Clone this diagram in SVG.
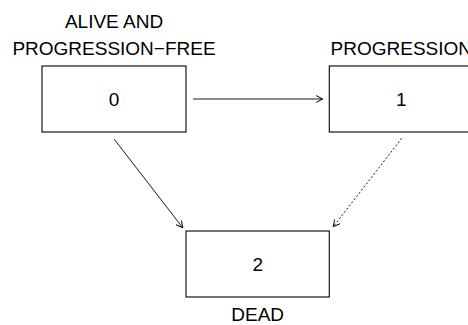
<svg xmlns="http://www.w3.org/2000/svg" width="468" height="325" viewBox="0 0 468 325">
<defs>
<marker id="ah" viewBox="0 0 7 8" refX="6.5" refY="4" markerWidth="7" markerHeight="8" markerUnits="userSpaceOnUse" orient="auto">
<path d="M0,0.6 L6.5,4 L0,7.4" fill="none" stroke="#000" stroke-width="1"/>
</marker>
<style>
.box{fill:#fff;stroke:#000;stroke-width:1.1}
.t{font-family:"Liberation Sans",Arial,sans-serif;font-size:19px;fill:#000;text-anchor:middle}
.c{fill:none;stroke:#000;stroke-width:0.9;marker-end:url(#ah)}
</style>
</defs>
<rect width="468" height="325" fill="#fff"/>
<g id="connectors">
<line class="c" x1="193" y1="99" x2="322.7" y2="99"/>
<line class="c" x1="114.3" y1="139.3" x2="182.7" y2="227.7"/>
<line class="c" x1="401.7" y1="138.3" x2="333.3" y2="226.7" stroke-dasharray="2,2"/>
</g>
<g id="node0">
<rect class="box" x="42" y="66" width="144" height="66"/>
<text class="t" x="114" y="105.8">0</text>
<text class="t" x="114" y="28">ALIVE AND</text>
<text class="t" x="114" y="54.5">PROGRESSION−FREE</text>
</g>
<g id="node1">
<rect class="box" x="329.3" y="66" width="144" height="66"/>
<text class="t" x="401.3" y="105.8">1</text>
<text class="t" x="401.3" y="54.5">PROGRESSION</text>
</g>
<g id="node2">
<rect class="box" x="186" y="231" width="143.3" height="66"/>
<text class="t" x="257.7" y="270.8">2</text>
<text class="t" x="257.7" y="321">DEAD</text>
</g>
</svg>
